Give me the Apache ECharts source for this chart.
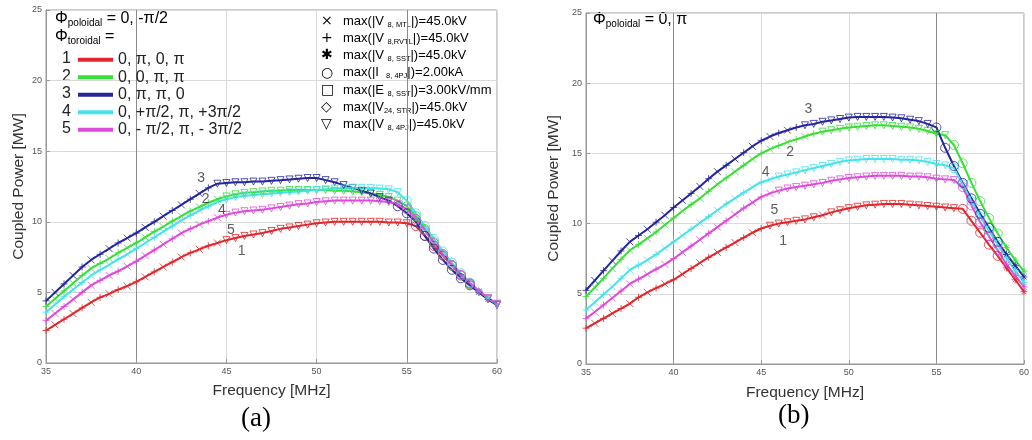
<!DOCTYPE html>
<html>
<head>
<meta charset="utf-8">
<script src="https://cdn.jsdelivr.net/npm/echarts@6/dist/echarts.min.js"></script>
<style>html,body{margin:0;padding:0;background:#fff}#chart{width:1032px;height:440px}</style>
</head>
<body>
<div id="chart"></div>
<script>
// frequency grid [MHz], shared by every curve
const freq = [35, 35.5, 36, 36.5, 37, 37.5, 38, 38.5, 39, 39.5,
  40, 40.5, 41, 41.5, 42, 42.5, 43, 43.5, 44, 44.5,
  45, 45.5, 46, 46.5, 47, 47.5, 48, 48.5, 49, 49.5,
  50, 50.5, 51, 51.5, 52, 52.5, 53, 53.5, 54, 54.5,
  55, 55.5, 56, 56.5, 57, 57.5, 58, 58.5, 59, 59.5, 60]

const xTicks = [35, 40, 45, 50, 55, 60]
const yTicks = [0, 5, 10, 15, 20, 25]

// (a) phi_poloidal = 0, -pi/2   coupled power [MW]
const powerA1 = [2.3, 2.7, 3.1, 3.5, 3.9, 4.3, 4.65, 4.9, 5.2, 5.45,
  5.75, 6.1, 6.45, 6.8, 7.15, 7.5, 7.8, 8.05, 8.3, 8.5,
  8.7, 8.85, 9.0, 9.1, 9.2, 9.35, 9.5, 9.6, 9.7, 9.8,
  9.9, 9.95, 10.0, 10.0, 10.0, 10.0, 10.0, 10.0, 9.95, 9.95,
  9.9, 9.7, 9.0, 8.3, 7.6, 6.9, 6.2, 5.6, 5.05, 4.55, 4.15]
const powerA2 = [4.0, 4.55, 5.1, 5.65, 6.2, 6.7, 7.05, 7.4, 7.8, 8.15,
  8.5, 8.9, 9.3, 9.65, 10.05, 10.4, 10.75, 11.05, 11.35, 11.6,
  11.8, 11.95, 12.05, 12.1, 12.15, 12.2, 12.2, 12.25, 12.25, 12.25,
  12.25, 12.25, 12.2, 12.2, 12.15, 12.1, 12.0, 11.9, 11.75, 11.5,
  11.1, 10.4, 9.5, 8.6, 7.7, 6.9, 6.2, 5.6, 5.05, 4.55, 4.15]
const powerA3 = [4.4, 5.0, 5.6, 6.2, 6.8, 7.3, 7.7, 8.1, 8.5, 8.85,
  9.2, 9.6, 10.0, 10.4, 10.8, 11.2, 11.6, 12.0, 12.4, 12.7,
  12.75, 12.8, 12.8, 12.85, 12.85, 12.9, 12.95, 13.0, 13.05, 13.1,
  13.1, 12.95, 12.8, 12.6, 12.4, 12.2, 12.0, 11.75, 11.5, 11.1,
  10.6, 10.0, 9.0, 8.1, 7.3, 6.6, 6.0, 5.5, 5.0, 4.5, 4.1]
const powerA4 = [3.6, 4.15, 4.7, 5.2, 5.7, 6.2, 6.6, 6.95, 7.35, 7.7,
  8.1, 8.5, 8.9, 9.3, 9.7, 10.1, 10.45, 10.8, 11.1, 11.4,
  11.6, 11.75, 11.85, 11.9, 11.95, 12.0, 12.05, 12.1, 12.15, 12.2,
  12.25, 12.3, 12.35, 12.35, 12.4, 12.4, 12.4, 12.35, 12.3, 12.1,
  11.5, 10.6, 9.7, 8.8, 7.9, 7.1, 6.35, 5.7, 5.1, 4.6, 4.15]
const powerA5 = [3.0, 3.5, 4.0, 4.5, 5.0, 5.5, 5.85, 6.2, 6.5, 6.85,
  7.2, 7.6, 8.0, 8.4, 8.8, 9.2, 9.5, 9.8, 10.05, 10.3,
  10.5, 10.65, 10.75, 10.8, 10.85, 10.95, 11.05, 11.15, 11.25, 11.3,
  11.4, 11.45, 11.5, 11.5, 11.5, 11.5, 11.5, 11.45, 11.4, 11.25,
  10.9, 10.2, 9.4, 8.5, 7.7, 6.95, 6.25, 5.65, 5.1, 4.6, 4.2]

// (b) phi_poloidal = 0, pi
const powerB1 = [2.55, 2.9, 3.25, 3.6, 3.95, 4.3, 4.75, 5.1, 5.4, 5.7,
  6.0, 6.4, 6.8, 7.2, 7.6, 7.95, 8.3, 8.65, 9.0, 9.35,
  9.65, 9.85, 10.0, 10.1, 10.2, 10.3, 10.45, 10.6, 10.8, 10.95,
  11.1, 11.2, 11.3, 11.35, 11.4, 11.4, 11.4, 11.35, 11.3, 11.25,
  11.2, 11.15, 11.1, 11.05, 10.2, 9.35, 8.5, 7.7, 6.85, 6.0, 5.15]
const powerB2 = [4.8, 5.45, 6.1, 6.8, 7.45, 8.1, 8.5, 8.95, 9.4, 9.9,
  10.4, 10.9, 11.35, 11.8, 12.3, 12.8, 13.25, 13.7, 14.15, 14.6,
  15.0, 15.3, 15.55, 15.8, 16.0, 16.2, 16.4, 16.55, 16.65, 16.75,
  16.85, 16.9, 16.95, 17.0, 17.0, 16.95, 16.9, 16.85, 16.75, 16.6,
  16.4, 16.3, 15.6, 14.3, 12.9, 11.6, 10.4, 9.3, 8.3, 7.4, 6.6]
const powerB3 = [5.25, 5.95, 6.65, 7.35, 8.05, 8.7, 9.15, 9.6, 10.1, 10.6,
  11.15, 11.65, 12.15, 12.65, 13.2, 13.7, 14.15, 14.6, 15.05, 15.5,
  15.9, 16.2, 16.45, 16.65, 16.85, 17.0, 17.1, 17.25, 17.35, 17.45,
  17.55, 17.6, 17.6, 17.6, 17.6, 17.55, 17.5, 17.4, 17.3, 17.1,
  16.85, 15.4, 14.1, 12.9, 11.8, 10.7, 9.7, 8.7, 7.8, 7.0, 6.2]
const powerB4 = [3.85, 4.4, 4.95, 5.5, 6.1, 6.7, 7.05, 7.4, 7.8, 8.25,
  8.7, 9.15, 9.6, 10.05, 10.5, 10.95, 11.4, 11.8, 12.2, 12.6,
  12.95, 13.15, 13.35, 13.5, 13.65, 13.8, 13.95, 14.1, 14.25, 14.4,
  14.5, 14.55, 14.6, 14.6, 14.6, 14.6, 14.55, 14.55, 14.5, 14.4,
  14.25, 14.15, 13.95, 12.8, 11.6, 10.5, 9.5, 8.5, 7.55, 6.65, 5.8]
const powerB5 = [3.25, 3.7, 4.2, 4.7, 5.2, 5.7, 6.05, 6.4, 6.75, 7.1,
  7.5, 7.95, 8.4, 8.85, 9.3, 9.75, 10.2, 10.65, 11.1, 11.5,
  11.9, 12.15, 12.35, 12.5, 12.6, 12.7, 12.8, 12.9, 13.05, 13.15,
  13.25, 13.3, 13.35, 13.4, 13.4, 13.4, 13.4, 13.35, 13.35, 13.3,
  13.2, 13.15, 13.1, 12.6, 11.3, 10.1, 9.1, 8.1, 7.1, 6.3, 5.5]

const curveIds = ['1', '2', '3', '4', '5']
const phaseLabels = ['0, π, 0, π', '0, 0, π, π', '0, π, π, 0', '0, +π/2, π, +3π/2', '0, - π/2, π, - 3π/2']
// curve number annotations [freq, power, id]
const curveTagsA = [[45.85, 7.95, '1'], [43.85, 11.6, '2'], [43.6, 13.1, '3'], [44.75, 10.85, '4'], [45.25, 9.4, '5']]
const curveTagsB = [[46.25, 8.75, '1'], [46.65, 15.1, '2'], [47.7, 18.15, '3'], [45.25, 13.65, '4'], [45.75, 10.95, '5']]
// limit legend of panel (a): glyph, text before subscript, subscript, text after
const limitSyms = ['×', '+', '✱', '○', '□', '◇', '▽']
const limitPre = ['max(|V ', 'max(|V ', 'max(|V ', 'max(|I  ', 'max(|E ', 'max(|V', 'max(|V ']
const limitSub = ['8, MTL', '8,RVTL', '8, SST', '8, 4PJ', '8, SST', '24, STR', '8, 4PJ']
const limitPost = ['|)=45.0kV', '|)=45.0kV', '|)=45.0kV', '|)=2.00kA', '|)=3.00kV/mm', '|)=45.0kV', '|)=45.0kV']

const colors = ['#e2262b', '#3ade38', '#25259e', '#45e3ea', '#de4ad9']
const SANS = 'Liberation Sans'

const SYM = {
  plus: 'path://M5,0L5,10M0,5L10,5',
  cross: 'path://M0,0L10,10M10,0L0,10',
  tri: 'path://M0,0L10,0L5,9Z',
  star: 'path://M5,0L5,10M0,5L10,5M1.5,1.5L8.5,8.5M8.5,1.5L1.5,8.5'
}

// marker type follows the regime of the curve (rising / flat / falling)
function markerFor(vals, i) {
  const a = Math.max(0, i - 1), b = Math.min(vals.length - 1, i + 1)
  const slope = (vals[b] - vals[a]) / (freq[b] - freq[a])
  if (slope > 0.35) return i % 2 ? SYM.cross : SYM.plus
  if (slope < -0.9) return freq[i] >= 59 ? SYM.star : 'circle'
  return SYM.tri
}

function lineSeries(name, vals, color, gi) {
  return {
    type: 'line', name: name, xAxisIndex: gi, yAxisIndex: gi,
    data: freq.map((f, i) => [f, vals[i]]),
    showSymbol: false, color: color,
    lineStyle: { width: 2, color: color }, z: 2, silent: true
  }
}

function markerSeries(vals, color, gi) {
  return {
    type: 'scatter', xAxisIndex: gi, yAxisIndex: gi, symbolSize: 7,
    data: freq.map((f, i) => {
      const s = markerFor(vals, i)
      return { value: [f, vals[i]], symbol: s, symbolSize: s === 'circle' ? 9 : 7 }
    }),
    itemStyle: { color: 'transparent', borderColor: color, borderWidth: 1 },
    z: 3, silent: true
  }
}

function tagSeries(tags, gi) {
  return {
    type: 'scatter', xAxisIndex: gi, yAxisIndex: gi, symbolSize: 0,
    data: tags,
    label: { show: true, position: 'inside', formatter: p => p.value[2], color: '#333', fontSize: 14, fontFamily: SANS },
    z: 5, silent: true
  }
}

function xAxisOf(gi, gap) {
  return {
    type: 'value', gridIndex: gi, min: xTicks[0], max: xTicks[xTicks.length - 1], interval: 5,
    name: 'Frequency [MHz]', nameLocation: 'middle', nameGap: gap,
    nameTextStyle: { fontSize: 15.5, color: '#333', fontFamily: SANS },
    axisLine: { lineStyle: { color: '#999' } },
    axisTick: { inside: true, length: 4, lineStyle: { color: '#999' } },
    axisLabel: { fontSize: 9, color: '#555', margin: 4, fontFamily: SANS },
    splitLine: { show: true, lineStyle: { width: 1, color: ['#dadada', '#8a8a8a', '#dadada', '#dadada', '#8a8a8a', '#dadada'] } }
  }
}

function yAxisOf(gi, gap) {
  return {
    type: 'value', gridIndex: gi, min: yTicks[0], max: yTicks[yTicks.length - 1], interval: 5,
    name: 'Coupled Power [MW]', nameLocation: 'middle', nameGap: gap,
    nameTextStyle: { fontSize: 15.5, color: '#333', fontFamily: SANS },
    axisLine: { lineStyle: { color: '#999' } },
    axisTick: { inside: true, length: 4, lineStyle: { color: '#999' } },
    axisLabel: { fontSize: 9, color: '#555', margin: 4, fontFamily: SANS },
    splitLine: { show: true, lineStyle: { color: '#dadada' } }
  }
}

const powersA = [powerA1, powerA2, powerA3, powerA4, powerA5]
const powersB = [powerB1, powerB2, powerB3, powerB4, powerB5]

const series = []
powersA.forEach((v, k) => series.push(lineSeries(phaseLabels[k], v, colors[k], 0)))
powersB.forEach((v, k) => series.push(lineSeries(phaseLabels[k], v, colors[k], 1)))
powersA.forEach((v, k) => series.push(markerSeries(v, colors[k], 0)))
powersB.forEach((v, k) => series.push(markerSeries(v, colors[k], 1)))
series.push(tagSeries(curveTagsA, 0))
series.push(tagSeries(curveTagsB, 1))

const headRich = {
  m: { fontSize: 16, fontFamily: SANS, color: '#222', lineHeight: 18, verticalAlign: 'middle' },
  s: { fontSize: 10, fontFamily: SANS, color: '#222', lineHeight: 10, verticalAlign: 'bottom' }
}
const limRich = {
  g: { fontSize: 14, fontFamily: 'DejaVu Sans', color: '#222', width: 22, lineHeight: 15, verticalAlign: 'middle' },
  m: { fontSize: 13, fontFamily: SANS, color: '#222', lineHeight: 15, verticalAlign: 'middle' },
  s: { fontSize: 7.5, fontFamily: SANS, color: '#222', lineHeight: 8, verticalAlign: 'bottom' }
}

const graphic = [
  { type: 'text', left: 55, top: 11, style: { text: '{m|Φ}{s|poloidal}{m| = 0, -π/2}', rich: headRich } },
  { type: 'text', left: 55, top: 29, style: { text: '{m|Φ}{s|toroidal}{m| =}', rich: headRich } },
  { type: 'text', left: 593, top: 12, style: { text: '{m|Φ}{s|poloidal}{m| = 0, π}', rich: headRich } },
  { type: 'text', left: 241, top: 405, style: { text: '(a)', font: '27px "Liberation Serif"', fill: '#000' } },
  { type: 'text', left: 778, top: 402, style: { text: '(b)', font: '27px "Liberation Serif"', fill: '#000' } }
]
curveIds.forEach((id, k) => graphic.push({
  type: 'text', left: 62, top: 51 + k * 17.5,
  style: { text: id, font: '16px "Liberation Sans"', fill: '#222' }
}))
limitSyms.forEach((g, k) => graphic.push({
  type: 'text', left: 321, top: 14 + k * 17.3,
  style: { text: '{g|' + g + '}{m|' + limitPre[k] + '}{s|' + limitSub[k] + '}{m|' + limitPost[k] + '}', rich: limRich }
}))

const option = {
  animation: false,
  backgroundColor: '#fff',
  grid: [
    { left: 46, top: 10, width: 451, height: 353, show: true, borderColor: '#999', borderWidth: 1, backgroundColor: 'transparent' },
    { left: 586, top: 13, width: 446, height: 351, show: true, borderColor: '#999', borderWidth: 1, backgroundColor: 'transparent' }
  ],
  xAxis: [xAxisOf(0, 20), xAxisOf(1, 21)],
  yAxis: [yAxisOf(0, 19), yAxisOf(1, 24)],
  legend: {
    orient: 'vertical', left: 78, top: 51, padding: 0, itemWidth: 35, itemHeight: 4, itemGap: 0,
    icon: 'rect', selectedMode: false,
    data: phaseLabels.map((n, k) => ({ name: n, itemStyle: { color: colors[k] } })),
    textStyle: { fontSize: 16, lineHeight: 17.5, color: '#222', fontFamily: SANS }
  },
  graphic: graphic,
  series: series
}

const chart = echarts.init(document.getElementById('chart'), null, { renderer: 'canvas' })
chart.setOption(option)
</script>
</body>
</html>
